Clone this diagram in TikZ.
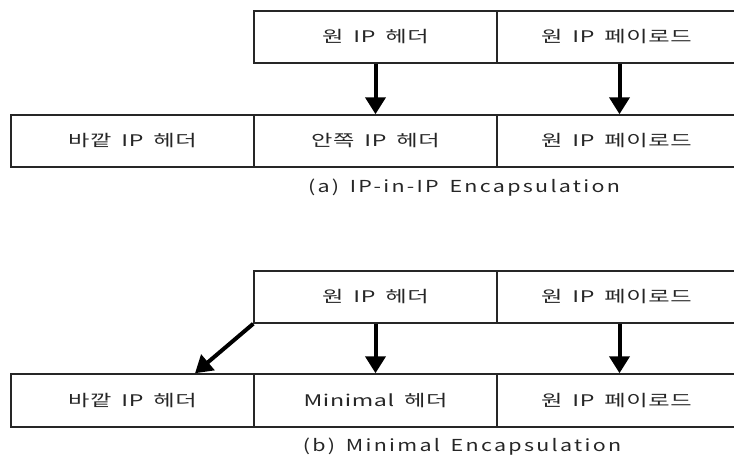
\documentclass[tikz,border=0pt]{standalone}
\usepackage{fontspec}
\setmainfont{Noto Sans CJK KR}
\newfontfamily\krfont[FakeStretch=1.45,LetterSpace=4,WordSpace=1.7]{Noto Sans CJK KR}
\newfontfamily\capfont[FakeStretch=1.3,LetterSpace=14,WordSpace=1.5]{Noto Sans CJK KR}
\usetikzlibrary{arrows.meta}
\begin{document}
\begin{tikzpicture}[x=1pt,y=-1pt,
  cell/.style={draw=black!85,line width=1.5pt,minimum height=52pt,inner sep=0pt,
     font=\krfont\fontsize{16}{18}\selectfont,text=black!85},
  cellA/.style={cell,minimum width=243pt},
  cellB/.style={cell,minimum width=239pt},
  capt/.style={font=\capfont\fontsize{16.5}{18}\selectfont,text=black!85},
  arr/.style={line width=4pt,-{Triangle[width=20pt,length=17pt]}}]
\useasboundingbox (0,0) rectangle (734,458);
% (a)
\node[cellA] (a1) at (375.5,37) {원 IP 헤더};
\node[cellB] (a2) at (616.5,37) {원 IP 페이로드};
\node[cellA] (b1) at (132.5,141) {바깥 IP 헤더};
\node[cellA] (b2) at (375.5,141) {안쪽 IP 헤더};
\node[cellB] (b3) at (616.5,141) {원 IP 페이로드};
\draw[arr] (a1.south) -- (b2.north);
\draw[arr] ([xshift=3pt]a2.south) -- ([xshift=3pt]b3.north);
\node[capt] (ca) at (464,188) {(a) IP-in-IP Encapsulation};
% (b)
\node[cellA] (c1) at (375.5,297) {원 IP 헤더};
\node[cellB] (c2) at (616.5,297) {원 IP 페이로드};
\node[cellA,minimum height=53pt] (d1) at (132.5,400.5) {바깥 IP 헤더};
\node[cellA,minimum height=53pt] (d2) at (375.5,400.5) {Minimal 헤더};
\node[cellB,minimum height=53pt] (d3) at (616.5,400.5) {원 IP 페이로드};
\draw[arr] (c1.south west) -- ([xshift=62.5pt]d1.north);
\draw[arr] (c1.south) -- (d2.north);
\draw[arr] ([xshift=3pt]c2.south) -- ([xshift=3pt]d3.north);
\node[capt] (cb) at (462,447) {(b) Minimal Encapsulation};
\end{tikzpicture}
\end{document}
